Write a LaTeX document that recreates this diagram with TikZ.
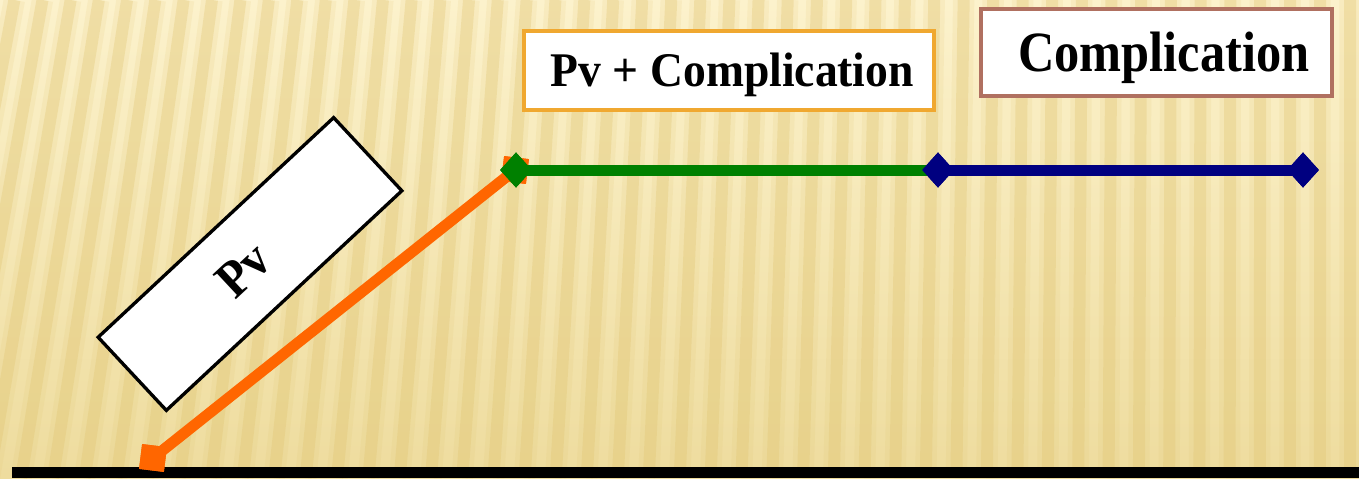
\documentclass[tikz,border=0pt]{standalone}
\usepackage{fontspec}
\setmainfont{Liberation Serif}
\usetikzlibrary{shapes.geometric}
\definecolor{bgtop}{RGB}{252,242,204}
\definecolor{bgbot}{RGB}{238,220,158}
\definecolor{stripecol}{RGB}{224,196,112}
\definecolor{orangeln}{RGB}{255,102,0}
\definecolor{greenln}{RGB}{0,128,0}
\definecolor{blueln}{RGB}{0,0,128}
\definecolor{pvcborder}{RGB}{240,168,48}
\definecolor{compborder}{RGB}{176,112,96}
\tikzset{
  stripe/.style={line width=9pt, color=stripecol, opacity=0.32},
  stripesoft/.style={line width=16pt, color=stripecol, opacity=0.14},
  seg/.style={line width=8.25pt},
  sqmark/.style={rectangle, fill=orangeln, inner sep=0pt, minimum size=18.75pt, rotate=-7},
  dmark/.style={diamond, inner sep=0pt, minimum width=24pt, minimum height=26.5pt},
  labelbox/.style={rectangle, fill=white, line width=2.5pt, inner sep=0pt, font=\bfseries},
}
\begin{document}
\begin{tikzpicture}[x=0.75pt,y=-0.75pt]
\useasboundingbox (0,0) rectangle (1359,478);
% background
\shade[top color=bgtop, bottom color=bgbot] (0,0) rectangle (1359,478);
\begin{scope}
\clip (0,0) rectangle (1359,478);
\foreach \i in {-4,...,47} {
  \pgfmathsetmacro{\xx}{\i*30}
  \pgfmathsetmacro{\sh}{85*(1-\xx/1359)^2}
  \draw[stripesoft] (\xx+\sh/2,0) -- (\xx-\sh/2,478);
  \draw[stripe] (\xx+\sh/2,0) -- (\xx-\sh/2,478);
}
\end{scope}
% base bar
\fill[black] (12,467) rectangle (1359,478);
% markers (positions)
\node[sqmark] (o1) at (153,458) {};
\node[sqmark] (o2) at (515,170) {};
\draw[seg, orangeln] (o1.center) -- (o2.center);
\node[sqmark] at (o1.center) {};
\node[sqmark] at (o2.center) {};
\node[dmark, fill=greenln] (g1) at (516,170) {};
\node[dmark, fill=blueln] (b1) at (938,170) {};
\node[dmark, fill=blueln] (b2) at (1303,170) {};
\draw[seg, greenln] (g1.center) -- (b1.center);
\node[dmark, fill=greenln] at (g1.center) {};
\draw[seg, blueln] (b1.center) -- (b2.center);
\node[dmark, fill=blueln] at (b1.center) {};
\node[dmark, fill=blueln] at (b2.center) {};
% label boxes
\node[labelbox, draw=black, rotate=43, minimum width=241.5pt, minimum height=75pt,
      text height=25pt, text depth=0pt,
      font=\bfseries\fontsize{36}{40}\selectfont] (pv) at (250,264) {\scalebox{1}[1.08]{Pv}\hspace*{14pt}};
\node[labelbox, draw=pvcborder, minimum width=307.5pt, minimum height=59.25pt,
      text height=24pt, text depth=0pt,
      font=\bfseries\fontsize{34.2}{40}\selectfont] (pvc) at (729,70.5) {\hspace*{5pt}\scalebox{1}[1.06]{Pv + Complication}};
\node[labelbox, draw=compborder, minimum width=263.25pt, minimum height=65.25pt,
      text height=28.5pt, text depth=0pt,
      font=\bfseries\fontsize{37.8}{44}\selectfont] (comp) at (1156.5,52.5) {\hspace*{11pt}\scalebox{1}[1.13]{Complication}};
\end{tikzpicture}
\end{document}
